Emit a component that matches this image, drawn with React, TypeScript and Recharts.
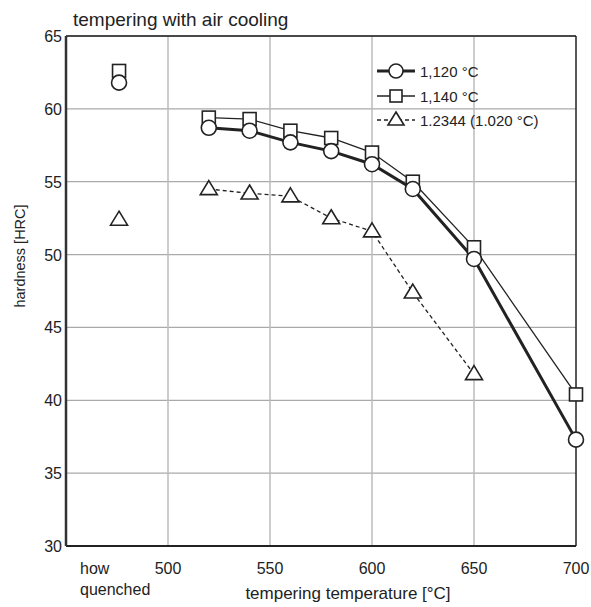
import React from "react";
import { ComposedChart, Line, XAxis, YAxis, CartesianGrid, ReferenceLine } from "recharts";

const temps = [520, 540, 560, 580, 600, 620, 650, 700];
const hard1120 = [58.7, 58.5, 57.7, 57.1, 56.2, 54.5, 49.7, 37.3];
const hard1140 = [59.4, 59.3, 58.5, 58.0, 57.0, 55.0, 50.5, 40.4];
const hard2344 = [54.5, 54.2, 54.0, 52.5, 51.6, 47.4, 41.8, null];
const quenchedX = 476;
const quenched1120 = 61.8;
const quenched1140 = 62.6;
const quenched2344 = 52.4;
const xTicks = [quenchedX, 500, 550, 600, 650, 700];
const yTicks = [30, 35, 40, 45, 50, 55, 60, 65];
const gridX = [500, 550, 600, 650];

const data = [
  { x: quenchedX, q1120: quenched1120, q1140: quenched1140, q2344: quenched2344 },
  ...temps.map((t, i) => ({ x: t, c1120: hard1120[i], c1140: hard1140[i], c2344: hard2344[i] })),
];

const FONT = "'Liberation Sans', Arial, sans-serif";
const INK = "#222";

const CircleDot = (p: any) => {
  if (p.cx == null || p.cy == null || p.value == null) return null;
  return <circle key={p.key} cx={p.cx} cy={p.cy} r={7.5} fill="#fff" stroke={INK} strokeWidth={1.6} />;
};
const SquareDot = (p: any) => {
  if (p.cx == null || p.cy == null || p.value == null) return null;
  return <rect key={p.key} x={p.cx - 6.5} y={p.cy - 6.5} width={13} height={13} fill="#fff" stroke={INK} strokeWidth={1.6} />;
};
const TriDot = (p: any) => {
  if (p.cx == null || p.cy == null || p.value == null) return null;
  const w = 8.5, h = 14;
  return (
    <polygon key={p.key}
      points={`${p.cx},${p.cy - h * 0.6} ${p.cx + w},${p.cy + h * 0.4} ${p.cx - w},${p.cy + h * 0.4}`}
      fill="#fff" stroke={INK} strokeWidth={1.6} strokeLinejoin="miter" />
  );
};

const XTick = (p: any) => {
  const { x, y, payload } = p;
  if (payload.value === quenchedX) {
    return (
      <text x={80} y={y + 20} fontFamily={FONT} fontSize={16} fill={INK}>
        <tspan x={80} dy={0}>how</tspan>
        <tspan x={80} dy={21}>quenched</tspan>
      </text>
    );
  }
  return (
    <text x={x} y={y + 20} textAnchor="middle" fontFamily={FONT} fontSize={16} fill={INK}>
      {payload.value}
    </text>
  );
};

const YTick = (p: any) => {
  const { y, payload } = p;
  return (
    <text x={62} y={y + 6} textAnchor="end" fontFamily={FONT} fontSize={16} fill={INK}>
      {payload.value}
    </text>
  );
};

const legendItems = [
  { label: "1,120 °C", width: 3, dash: undefined as string | undefined, mark: "circle" },
  { label: "1,140 °C", width: 1.3, dash: undefined, mark: "square" },
  { label: "1.2344 (1.020 °C)", width: 1.3, dash: "4 3", mark: "tri" },
];

const LegendBox = () => (
  <div style={{ position: "absolute", left: 377, top: 58, fontFamily: FONT, fontSize: 15, color: INK }}>
    {legendItems.map((it, i) => (
      <div key={i} style={{ display: "flex", alignItems: "center", height: i === 0 ? 26 : 24 }}>
        <svg width={42} height={20}>
          <line x1={0} y1={10} x2={38} y2={10} stroke={INK} strokeWidth={it.width} strokeDasharray={it.dash} />
          {it.mark === "circle" && <circle cx={19} cy={10} r={7} fill="#fff" stroke={INK} strokeWidth={1.6} />}
          {it.mark === "square" && <rect x={13} y={4} width={12} height={12} fill="#fff" stroke={INK} strokeWidth={1.6} />}
          {it.mark === "tri" && <polygon points="19,2 27,15 11,15" fill="#fff" stroke={INK} strokeWidth={1.6} />}
        </svg>
        <span style={{ marginLeft: 1 }}>{it.label}</span>
      </div>
    ))}
  </div>
);

export default function App() {
  return (
    <div style={{ position: "absolute", left: 0, top: 0, width: 591, height: 607, background: "#fff" }}>
      <div style={{ position: "absolute", left: 73, top: 7, fontFamily: FONT, fontSize: 19, color: INK, lineHeight: "26px" }}>
        tempering with air cooling
      </div>
      <ComposedChart width={591} height={607} data={data} margin={{ top: 36, right: 15, left: 0, bottom: 0 }}>
        <CartesianGrid vertical={false} stroke="#aaa" strokeWidth={1.3} horizontalValues={yTicks} />
        {gridX.map((g) => (
          <ReferenceLine key={g} x={g} stroke="#bbb" strokeWidth={1.5} />
        ))}
        <ReferenceLine y={65} stroke={INK} strokeWidth={1.5} />
        <ReferenceLine x={700} stroke={INK} strokeWidth={1.5} />
        <XAxis
          type="number" dataKey="x" domain={[450, 700]} ticks={xTicks} interval={0}
          height={61} tickLine={false} axisLine={{ stroke: INK, strokeWidth: 2 }}
          tick={<XTick />}
          label={{ content: () => (
            <text x={348} y={599} textAnchor="middle" fontFamily={FONT} fontSize={17} fill={INK}>tempering temperature [°C]</text>
          ) }}
        />
        <YAxis
          type="number" domain={[30, 65]} ticks={yTicks} interval={0} width={66}
          tickLine={false} axisLine={{ stroke: "#333", strokeWidth: 2.5 }}
          tick={<YTick />}
          label={{ content: () => (
            <text x={25} y={256} transform="rotate(-90 25 256)" textAnchor="middle" fontFamily={FONT} fontSize={14.5} fill={INK}>hardness [HRC]</text>
          ) }}
        />
        <Line dataKey="c1140" stroke={INK} strokeWidth={1.3} dot={<SquareDot />} activeDot={false} isAnimationActive={false} connectNulls={false} />
        <Line dataKey="c1120" stroke={INK} strokeWidth={3} dot={<CircleDot />} activeDot={false} isAnimationActive={false} connectNulls={false} />
        <Line dataKey="c2344" stroke={INK} strokeWidth={1.3} strokeDasharray="4 3" dot={<TriDot />} activeDot={false} isAnimationActive={false} connectNulls={false} />
        <Line dataKey="q1140" stroke="none" dot={<SquareDot />} activeDot={false} isAnimationActive={false} />
        <Line dataKey="q1120" stroke="none" dot={<CircleDot />} activeDot={false} isAnimationActive={false} />
        <Line dataKey="q2344" stroke="none" dot={<TriDot />} activeDot={false} isAnimationActive={false} />
      </ComposedChart>
      <LegendBox />
    </div>
  );
}
